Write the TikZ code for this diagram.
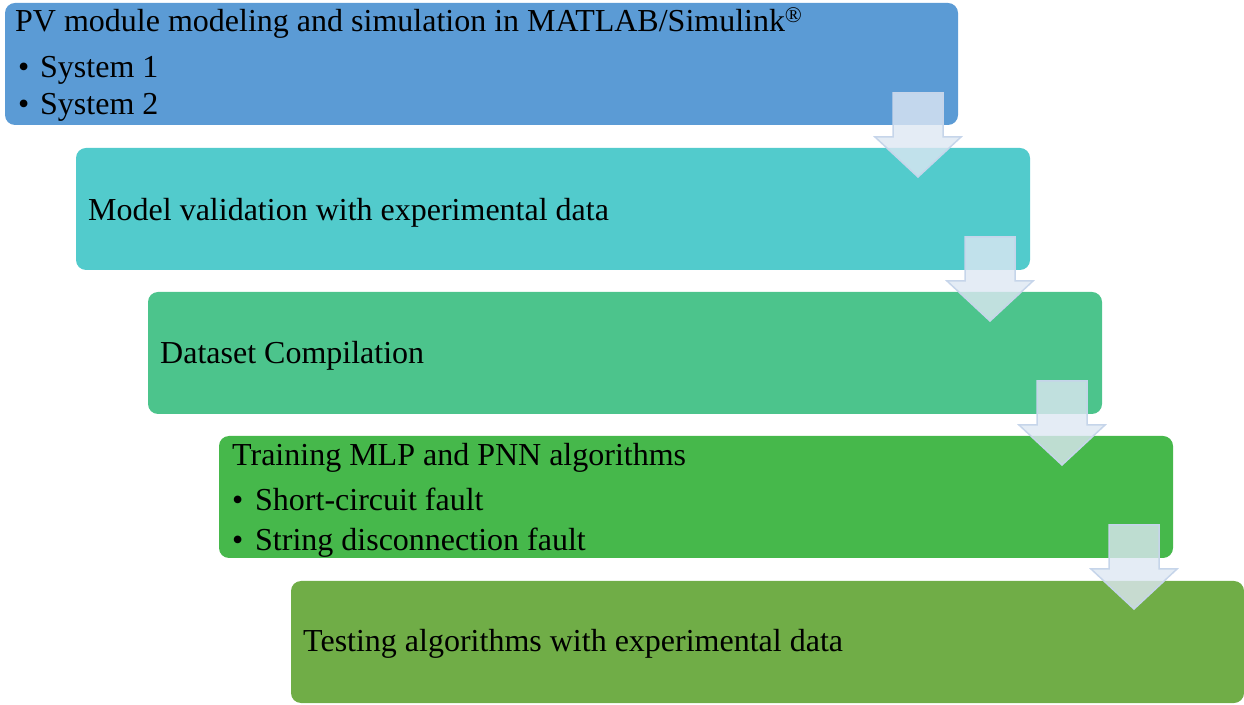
\documentclass[tikz,border=0pt]{standalone}
\usepackage{fontspec}
\setmainfont{Liberation Serif}
\definecolor{cA}{HTML}{5B9BD5}
\definecolor{cB}{HTML}{52CBCC}
\definecolor{cC}{HTML}{4CC48C}
\definecolor{cD}{HTML}{46B84B}
\definecolor{cE}{HTML}{70AD47}
\definecolor{arrfill}{HTML}{DDE7F3}
\definecolor{arrline}{HTML}{C6D5EA}
\begin{document}
\begin{tikzpicture}[x=1pt,y=1pt,
  stepbox/.style={rounded corners=10pt},
  txt/.style={anchor=base west,inner sep=0pt,font=\fontsize{32}{38}\selectfont},
  flowarrow/.style={fill=arrfill,fill opacity=0.8,draw=arrline,line width=1.5pt,line join=miter}]
\useasboundingbox (0,0) rectangle (1244,704);
\fill[cA,stepbox] (5,579) rectangle (958,701);
\fill[cB,stepbox] (76,434) rectangle (1030,556);
\fill[cC,stepbox] (148,290) rectangle (1102,412);
\fill[cD,stepbox] (219,146) rectangle (1173,268);
\fill[cE,stepbox] (291,1) rectangle (1244,123);
% arrows
\foreach \cx/\top/\base/\tip in {918/611/567/527, 990/467/423/383, 1062/323/279/239, 1134/179/135/95}{
  \draw[flowarrow] (\cx-25,\top) -- (\cx+25,\top) -- (\cx+25,\base) -- (\cx+43,\base) -- (\cx,\tip) -- (\cx-43,\base) -- (\cx-25,\base) -- cycle;
}
% texts
\node[txt] (t1) at (15,672) {PV module modeling and simulation in MATLAB/Simulink\textsuperscript{\textregistered}};
\node[txt] (b1a) at (18,626) {•};
\node[txt] (s1a) at (40,626) {System 1};
\node[txt] (b1b) at (18,589) {•};
\node[txt] (s1b) at (40,589) {System 2};
\node[txt] (t2) at (88,483) {Model validation with experimental data};
\node[txt] (t3) at (160,340) {Dataset Compilation};
\node[txt] (t4) at (232,238) {Training MLP and PNN algorithms};
\node[txt] (b4a) at (232,193) {•};
\node[txt] (s4a) at (255,193) {Short-circuit fault};
\node[txt] (b4b) at (232,153) {•};
\node[txt] (s4b) at (255,153) {String disconnection fault};
\node[txt] (t5) at (303,53) {Testing algorithms with experimental data};
\end{tikzpicture}
\end{document}
